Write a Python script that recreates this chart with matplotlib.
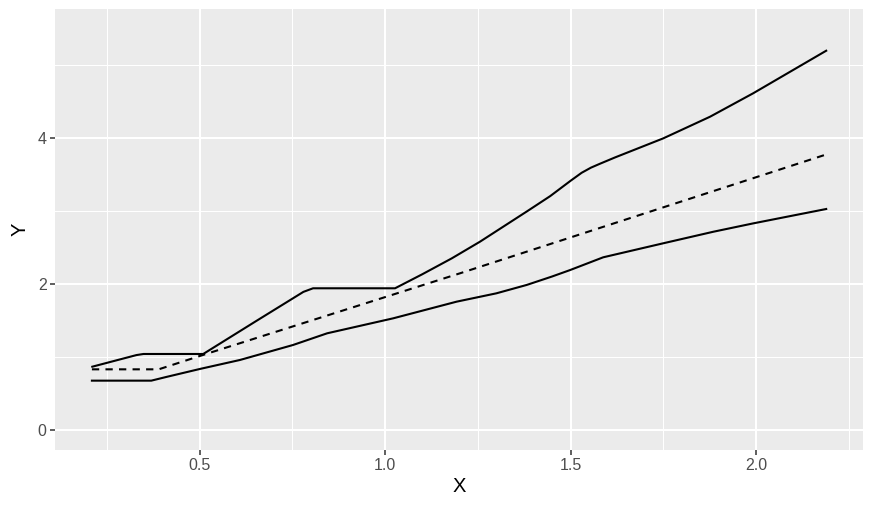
import matplotlib
matplotlib.use('Agg')
import matplotlib.pyplot as plt
import numpy as np

# curves
upper_x = [0.211, 0.330, 0.349, 0.510, 0.654, 0.780, 0.806, 1.027, 1.100, 1.180,
           1.256, 1.382, 1.445, 1.500, 1.530, 1.555, 1.580, 1.620, 1.750, 1.876,
           1.992, 2.189]
upper_y = [0.866, 1.025, 1.040, 1.040, 1.495, 1.890, 1.939, 1.939, 2.130, 2.349,
           2.577, 2.990, 3.200, 3.410, 3.520, 3.590, 3.645, 3.730, 3.991, 4.287,
           4.607, 5.190]

lower_x = [0.210, 0.370, 0.410, 0.501, 0.609, 0.752, 0.844, 1.022, 1.193,
           1.300, 1.382, 1.450, 1.499, 1.588, 1.750, 1.885, 1.993, 2.189]
lower_y = [0.675, 0.675, 0.725, 0.835, 0.958, 1.163, 1.323, 1.528, 1.756,
           1.870, 1.985, 2.100, 2.189, 2.363, 2.555, 2.713, 2.828, 3.024]

mid_x = [0.210, 0.390, 0.509, 1.202, 2.189]
mid_y = [0.830, 0.830, 1.026, 2.144, 3.770]

x_ticks = [0.5, 1.0, 1.5, 2.0]
x_labels = ['0.5', '1.0', '1.5', '2.0']
y_ticks = [0, 2, 4]
y_labels = ['0', '2', '4']

plt.rcParams['font.family'] = ['Liberation Sans', 'DejaVu Sans']

fig = plt.figure(figsize=(8.72, 5.08), dpi=100)
ax = fig.add_axes([55 / 872, 1 - 450 / 508, (863.3 - 55) / 872, (450 - 9) / 508])
ax.set_facecolor('#EBEBEB')
for s in ax.spines.values():
    s.set_visible(False)

ax.set_xlim(0.1105, 2.289)
ax.set_ylim(-0.274, 5.761)

ax.set_xticks(x_ticks)
ax.set_xticklabels(x_labels)
ax.set_yticks(y_ticks)
ax.set_yticklabels(y_labels)
ax.set_xticks([0.25, 0.75, 1.25, 1.75, 2.25], minor=True)
ax.set_yticks([1, 3, 5], minor=True)

ax.grid(which='major', color='white', linewidth=1.5)
ax.grid(which='minor', color='white', linewidth=0.75)
ax.set_axisbelow(True)

ax.tick_params(which='major', length=3.5, width=1.1, color='#333333',
               labelsize=11.5, labelcolor='#4D4D4D', pad=2.5)
ax.tick_params(which='minor', length=0)

ax.plot(upper_x, upper_y, color='black', linewidth=1.5, solid_joinstyle='round')
ax.plot(lower_x, lower_y, color='black', linewidth=1.5, solid_joinstyle='round')
ax.plot(mid_x, mid_y, color='black', linewidth=1.5, linestyle=(0, (3.5, 3)))

ax.set_xlabel('X', fontsize=14.5, labelpad=3)
ax.set_ylabel('Y', fontsize=14.5, labelpad=6)

fig.savefig('out.png', dpi=100)
